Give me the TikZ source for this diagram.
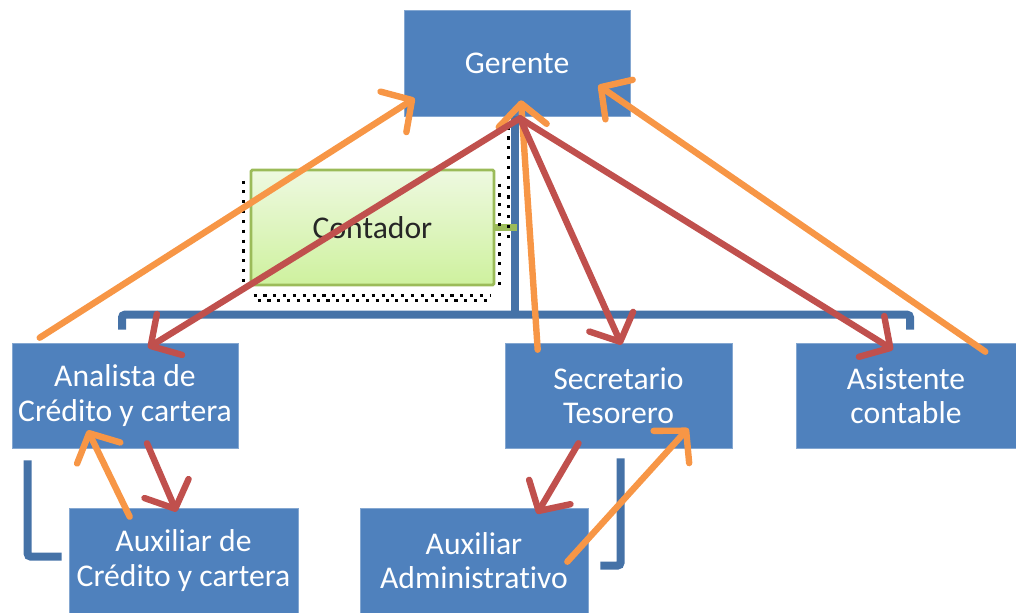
\documentclass[tikz,border=0pt]{standalone}
\usepackage{fontspec}
\setmainfont{Carlito}[Ligatures=NoCommon]
\usetikzlibrary{calc,arrows.meta}
\definecolor{boxblue}{RGB}{79,129,189}
\definecolor{lineblue}{RGB}{69,114,167}
\definecolor{upline}{RGB}{247,150,70}
\definecolor{downline}{RGB}{192,80,77}
\definecolor{leafgreen}{RGB}{155,187,89}
\definecolor{paletop}{RGB}{238,249,224}
\definecolor{palebot}{RGB}{206,241,158}
\definecolor{ink}{RGB}{38,38,38}

\begin{document}
\begin{tikzpicture}[x=0.025cm, y=0.025cm,
    post/.style={fill=boxblue, draw=boxblue!70!white, line width=0.4pt,
      text=white, align=center, inner sep=0pt, minimum height=2.625cm,
      font=\fontsize{22.5}{24.5}\selectfont},
    orgline/.style={draw=lineblue, line width=0.2cm, rounded corners=2pt},
    marks/.style={draw=black, line width=2.4pt, dash pattern=on 2.2pt off 4.8pt},
    upflow/.style={draw=upline, line width=0.16cm, line cap=round,
      -{Straight Barb[length=0.55cm, width=1.2cm, round]}},
    downflow/.style={draw=downline, line width=0.16cm, line cap=round,
      -{Straight Barb[length=0.55cm, width=1.2cm, round]}}]
  \useasboundingbox (0,0) rectangle (1016,-612);

  \node[post, minimum width=5.65cm, minimum height=2.65cm] (ger) at (517,-63) {Gerente};
  \node[post, minimum width=5.65cm] (anal) at (125,-395.5) {Analista de\\Crédito y cartera};
  \node[post, minimum width=5.675cm] (sec) at (618.5,-395.5) {Secretario\\Tesorero};
  \node[post, minimum width=5.5cm] (asis) at (906,-395.5) {Asistente\\contable};
  \node[post, minimum width=5.725cm] (auxc) at (183.5,-560.5) {Auxiliar de\\Crédito y cartera};
  \node[post, minimum width=5.7cm] (auxa) at (474,-560.5) {Auxiliar\\Administrativo};

  % lineas del organigrama
  \draw[orgline] ($(ger.south)+(-2,0)$) -- ++(0,-199);
  \draw[orgline] ($(anal.north)+(-3,13)$) |- ($(asis.north)+(4,28)$) -- ++(0,-15);
  \draw[orgline] ($(anal.south west)+(16,-12)$) |- ($(auxc.west)+(-7,4)$);
  \draw[orgline] ($(sec.south)+(2,-10)$) |- ($(auxa.east)+(12,-5)$);

  % contador (asesor)
  \node[top color=paletop, bottom color=palebot, draw=leafgreen, line width=2pt,
        rounded corners=1pt, text=ink, minimum width=6.075cm, minimum height=2.875cm,
        font=\fontsize{22.5}{24.5}\selectfont] (cont) at (372.5,-227.5) {Contador};
  \draw[draw=leafgreen, line width=0.17cm] (cont.east) -- (cont.east -| ger.south);
  \draw[marks] ($(cont.west)+(-6,47)$) -- ($(cont.west)+(-6,-63)$);
  \draw[marks] ($(cont.south west)+(4,-9)$) -- ($(cont.south east)+(-4,-9)$);
  \draw[marks] ($(cont.south west)+(8,-14)$) -- ($(cont.south east)+(-4,-14)$);
  \draw[marks] ($(cont.north east)+(13,42)$) -- ($(cont.east)+(13,-17)$);
  \draw[marks] ($(cont.north east)+(4,-15)$) -- ($(cont.south east)+(4,-5)$);

  % flujo hacia arriba
  \draw[upflow] ($(anal.north west)+(28,5)$) -- ($(ger.south west)+(11,18)$);
  \draw[upflow] ($(sec.north west)+(33,-7)$) -- ($(ger.south)+(4,16)$);
  \draw[upflow] ($(asis.north east)+(-31,-9)$) -- ($(ger.south east)+(-32,31)$);
  \draw[upflow] ($(auxc.north west)+(61,-9)$) -- ($(anal.south west)+(76,18)$);
  \draw[upflow] ($(auxa.north east)+(-21,-54)$) -- ($(sec.south east)+(-44,20)$);

  % flujo hacia abajo
  \draw[downflow] ($(ger.south)+(3,-2)$) -- ($(anal.north)+(23,-5)$);
  \draw[downflow] ($(ger.south)+(3,-2)$) -- ($(sec.north)+(3,-2)$);
  \draw[downflow] ($(ger.south)+(3,-2)$) -- ($(asis.north)+(-13,-7)$);
  \draw[downflow] ($(anal.south)+(22,5)$) -- ($(auxc.north)+(-7,-4)$);
  \draw[downflow] ($(sec.south)+(-40,5)$) -- ($(auxa.north)+(63,-6)$);
\end{tikzpicture}
\end{document}
